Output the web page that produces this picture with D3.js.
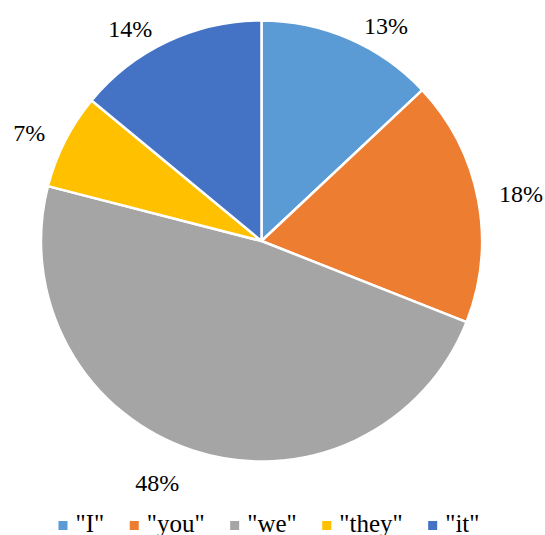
<!DOCTYPE html>
<head>
<meta charset="utf-8">
<style>
  body { margin: 0; background: #fff; }
</style>
<script src="https://d3js.org/d3.v7.min.js"></script>
</head>
<body>
<script>
var categories = ['"I"', '"you"', '"we"', '"they"', '"it"'];
var shares = [13, 18, 48, 7, 14];
var colors = ["#5B9BD5", "#ED7D31", "#A5A5A5", "#FFC000", "#4472C4"];

var width = 545, height = 535;
var cx = 261.5, cy = 241, radius = 220.5;
var fontFam = "'Liberation Serif', 'Times New Roman', serif";

var svg = d3.select("body").append("svg")
  .attr("width", width).attr("height", height)
  .style("font-family", fontFam);

var data = categories.map(function(c, i) { return { name: c, value: shares[i], color: colors[i] }; });

var pie = d3.pie().sort(null).value(function(d) { return d.value; });
var arc = d3.arc().innerRadius(0).outerRadius(radius);
var arcs = pie(data);

var g = svg.append("g").attr("transform", "translate(" + cx + "," + cy + ")");

g.selectAll("path")
  .data(arcs)
  .enter()
  .append("path")
  .attr("d", arc)
  .attr("fill", function(d) { return d.data.color; })
  .attr("stroke", "#fff")
  .attr("stroke-width", 2.5)
  .attr("stroke-linejoin", "round");

// labels outside the end of each slice
g.selectAll("text.lbl")
  .data(arcs)
  .enter()
  .append("text")
  .attr("class", "lbl")
  .attr("font-family", fontFam)
  .attr("font-size", "24px")
  .each(function(d) {
    var a = (d.startAngle + d.endAngle) / 2;
    var ux = Math.sin(a), uy = -Math.cos(a);
    var px = ux * (radius + 10), py = uy * (radius + 10);
    var right = ux > 0;
    d3.select(this)
      .attr("x", px + (right ? 11 : -11))
      .attr("y", py - 4 + Math.max(0, uy) * 28)
      .attr("dy", "0.35em")
      .attr("text-anchor", right ? "start" : "end")
      .text(d.data.value + "%");
  });

// legend
var legend = svg.append("g");
var sq = 9, gapText = 8, gapItem = 25.5, legendY = 531.5;
var items = legend.selectAll("g")
  .data(data)
  .enter()
  .append("g");
items.append("rect")
  .attr("width", sq).attr("height", sq)
  .attr("y", 521)
  .attr("fill", function(d) { return d.color; });
items.append("text")
  .attr("font-family", fontFam)
  .attr("font-size", "25px")
  .attr("x", sq + gapText)
  .attr("y", legendY)
  .text(function(d) { return d.name; });

var xpos = 0;
items.each(function() {
  var w = this.querySelector("text").getComputedTextLength();
  d3.select(this).attr("transform", "translate(" + xpos + ",0)");
  xpos += sq + gapText + w + gapItem;
});
var total = xpos - gapItem;
legend.attr("transform", "translate(" + (269 - total / 2) + ",0)");
</script>
</body>
</html>
